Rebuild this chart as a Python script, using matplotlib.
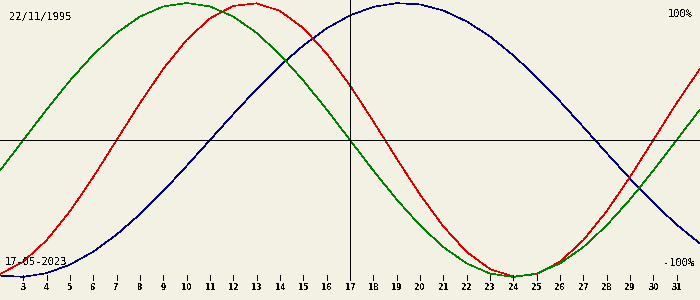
import numpy as np
import matplotlib
matplotlib.use("Agg")
import matplotlib.pyplot as plt

# biorhythm for 17-05-2023, born 22/11/1995 (values in %)
days = list(range(2, 33))
physical = [-97.9, -88.8, -73.1, -52.0, -27.0, 0.0, 27.0, 52.0, 73.1, 88.8,
            97.9, 99.8, 94.2, 81.7, 63.1, 39.8, 13.6, -13.6, -39.8, -63.1,
            -81.7, -94.2, -99.8, -97.9, -88.8, -73.1, -52.0, -27.0, 0.0, 27.0, 52.0]
emotional = [-22.3, 0.0, 22.3, 43.4, 62.3, 78.2, 90.1, 97.5, 100.0, 97.5,
             90.1, 78.2, 62.3, 43.4, 22.3, 0.0, -22.3, -43.4, -62.3, -78.2,
             -90.1, -97.5, -100.0, -97.5, -90.1, -78.2, -62.3, -43.4, -22.3, 0.0, 22.3]
intellectual = [-99.0, -99.9, -97.2, -91.0, -81.5, -69.0, -54.1, -37.2, -18.9, 0.0,
                18.9, 37.2, 54.1, 69.0, 81.5, 91.0, 97.2, 99.9, 99.0, 94.5,
                86.6, 75.6, 61.8, 45.8, 28.2, 9.5, -9.5, -28.2, -45.8, -61.8, -75.6]
tick_days = list(range(3, 32))
today = 17
birth_label = "22/11/1995"
date_label = "17-05-2023"

bg = "#f3f0e4"
plt.rcParams['text.antialiased'] = False

fig = plt.figure(figsize=(7, 3), dpi=100, facecolor=bg)
ax = fig.add_axes([0, 0, 1, 1], facecolor=bg)
ax.set_xlim(2, 32)
ax.set_ylim(-116.8, 102.2)
ax.axis("off")

lw = 0.7
ax.plot(days, intellectual, color="#000080", lw=0.45, antialiased=False)
ax.plot(days, physical, color="#dd0000", lw=0.45, antialiased=False)
ax.plot(days, emotional, color="#008000", lw=0.45, antialiased=False)

ax.axhline(0, color="black", lw=lw, antialiased=False)
ax.vlines(today, -102.2, 102.2, color="black", lw=lw, antialiased=False)
ax.vlines(tick_days, -98.5, -102.2, color="black", lw=lw, antialiased=False)
for d in tick_days:
    ax.text(d, -108, str(d), ha="center", va="center", fontsize=5.5,
            fontweight="bold", family="DejaVu Sans")

fig.text(9/700, 1 - 17/300, birth_label, ha="left", va="center",
         fontsize=7.5, family="DejaVu Sans Mono")
fig.text(693/700, 1 - 14/300, "100%", ha="right", va="center",
         fontsize=7.5, family="DejaVu Sans Mono")
fig.text(5/700, 1 - 262/300, date_label, ha="left", va="center",
         fontsize=7.5, family="DejaVu Sans Mono")
fig.text(694/700, 1 - 263/300, "-100%", ha="right", va="center",
         fontsize=7.5, family="DejaVu Sans Mono")

fig.savefig("out.png", dpi=100, facecolor=bg)
